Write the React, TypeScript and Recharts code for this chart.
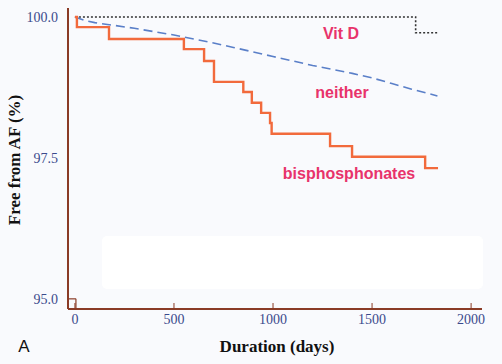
import { LineChart, Line, XAxis, YAxis, ReferenceLine } from 'recharts'

const xTicks = [0, 500, 1000, 1500, 2000]
const yTicks = [95, 97.5, 100]

// Kaplan-Meier style curves (days, % free from AF)
const vitDDays = [0, 1720, 1830]
const vitDFree = [100, 99.72, 99.72]

const neitherDays = [0, 50, 100, 200, 300, 400, 500, 600, 700, 800, 900, 1000, 1100, 1200, 1300, 1400, 1500, 1600, 1700, 1830]
const neitherFree = [100, 99.94, 99.9, 99.85, 99.8, 99.74, 99.68, 99.61, 99.54, 99.46, 99.38, 99.3, 99.22, 99.14, 99.07, 99.0, 98.92, 98.82, 98.72, 98.6]

const bisDays = [0, 10, 172, 550, 652, 702, 850, 893, 940, 985, 993, 1288, 1399, 1768, 1833]
const bisFree = [100, 99.82, 99.61, 99.43, 99.22, 98.85, 98.67, 98.48, 98.3, 98.12, 97.93, 97.71, 97.52, 97.32, 97.32]

const zip = (xs: number[], ys: number[]) => xs.map((x, i) => ({ x, y: ys[i] }))

const AXIS = '#8a3b26'
const TICK = '#3b4a8c'
const PINK = '#e8336b'

function XTick(props: any) {
  const { x, y, payload } = props
  return (
    <g>
      <line x1={x} x2={x} y1={y - 6} y2={y} stroke={AXIS} strokeWidth={1} />
      <text x={x} y={y + 15} textAnchor="middle" fill={TICK} fontSize={14} fontFamily="Liberation Serif, serif">
        {payload.value}
      </text>
    </g>
  )
}

export default function App() {
  return (
    <div style={{ position: 'absolute', left: 0, top: 0, width: 502, height: 364, background: '#f9fafd' }}>
      <LineChart width={502} height={364} margin={{ top: 8, right: 20, bottom: 25, left: 8 }}>
        <rect x={102} y={236} width={381} height={53} rx={5} fill="#ffffff" />
        <XAxis
          type="number"
          dataKey="x"
          domain={[-35, 2055]}
          ticks={xTicks}
          allowDataOverflow
          height={30}
          tickSize={0}
          tickMargin={0}
          tick={<XTick />}
          axisLine={{ stroke: AXIS, strokeWidth: 2 }}
        />
        <YAxis
          type="number"
          dataKey="y"
          domain={[94.82, 100.16]}
          ticks={yTicks}
          allowDataOverflow
          width={60}
          tickLine={false}
          tickMargin={4}
          tickFormatter={(v: number) => v.toFixed(1)}
          tick={{ fill: TICK, fontSize: 14, fontFamily: 'Liberation Serif, serif' }}
          axisLine={{ stroke: AXIS, strokeWidth: 2 }}
        />
        <ReferenceLine segment={[{ x: -35, y: 95 }, { x: 5, y: 95 }]} stroke={AXIS} strokeWidth={1.2} />
        <ReferenceLine segment={[{ x: 5, y: 95 }, { x: 5, y: 94.82 }]} stroke={AXIS} strokeWidth={1.2} />
        <Line
          data={zip(vitDDays, vitDFree)}
          dataKey="y"
          type="stepAfter"
          stroke="#333333"
          strokeWidth={1.6}
          strokeDasharray="2 2"
          dot={false}
          isAnimationActive={false}
        />
        <Line
          data={zip(neitherDays, neitherFree)}
          dataKey="y"
          type="linear"
          stroke="#5a7fc8"
          strokeWidth={1.6}
          strokeDasharray="9 5"
          dot={false}
          isAnimationActive={false}
        />
        <Line
          data={zip(bisDays, bisFree)}
          dataKey="y"
          type="stepAfter"
          stroke="#f26a3c"
          strokeWidth={2.4}
          dot={false}
          isAnimationActive={false}
        />
        <text x={341} y={39} textAnchor="middle" fill={PINK} fontSize={16} fontWeight="bold" fontFamily="Liberation Sans, Arial, sans-serif">Vit D</text>
        <text x={342} y={98} textAnchor="middle" fill={PINK} fontSize={16} fontWeight="bold" fontFamily="Liberation Sans, Arial, sans-serif">neither</text>
        <text x={349} y={179} textAnchor="middle" fill={PINK} fontSize={16} fontWeight="bold" fontFamily="Liberation Sans, Arial, sans-serif">bisphosphonates</text>
        <text x={277} y={352} textAnchor="middle" fill="#111" fontSize={17} fontWeight="bold" fontFamily="Liberation Serif, serif">Duration (days)</text>
        <text x={20} y={160} textAnchor="middle" fill="#111" fontSize={17} fontWeight="bold" fontFamily="Liberation Serif, serif" transform="rotate(-90 20 160)">Free from AF (%)</text>
        <text x={24} y={352} textAnchor="middle" fill="#111" fontSize={17} fontFamily="Liberation Sans, Arial, sans-serif">A</text>
      </LineChart>
    </div>
  )
}
